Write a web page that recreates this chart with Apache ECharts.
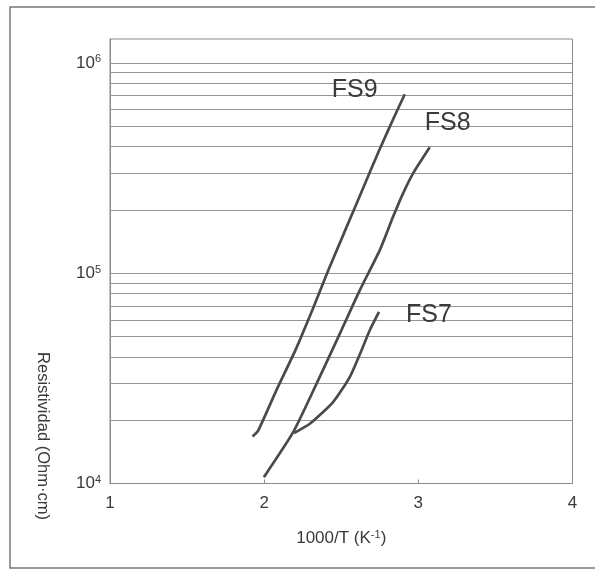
<!DOCTYPE html>
<html>
<head>
<meta charset="utf-8">
<script src="https://cdn.jsdelivr.net/npm/echarts@6/dist/echarts.min.js"></script>
<style>
  html, body { margin: 0; padding: 0; background: #fff; }
  #chart { width: 595px; height: 570px; }
</style>
</head>
<body>
<div id="chart"></div>
<script>
// curves (x = 1000/T, y = resistividad)
var fs9X = [1.925, 1.961, 2.079, 2.202, 2.312, 2.416, 2.526, 2.636, 2.747, 2.844, 2.912];
var fs9Y = [16750, 17860, 27730, 42950, 66680, 103300, 160300, 248300, 385500, 554600, 709600];

var fs8X = [1.998, 2.188, 2.340, 2.491, 2.620, 2.750, 2.836, 2.901, 2.966, 3.074];
var fs8Y = [10720, 17540, 29850, 51640, 82940, 128800, 185400, 239900, 298600, 397200];

var fs7X = [2.194, 2.296, 2.447, 2.555, 2.631, 2.685, 2.745];
var fs7Y = [17380, 19230, 24380, 32070, 42950, 53580, 65470];

// horizontal grid lines (2..9 x 10^k and the decades)
var gridValues = [2e4, 3e4, 4e4, 5e4, 6e4, 7e4, 8e4, 9e4, 1e5,
                  2e5, 3e5, 4e5, 5e5, 6e5, 7e5, 8e5, 9e5, 1e6];

var FONT = "'Liberation Sans', Arial, sans-serif";
var TXT = '#3a3a3a';

function pairs(xs, ys) {
    var out = [];
    for (var i = 0; i < xs.length; i++) {
        out.push([xs[i], ys[i]]);
    }
    return out;
}

function curve(name, xs, ys, off) {
    return {
        name: name,
        type: 'line',
        data: pairs(xs, ys),
        showSymbol: false,
        smooth: 0.2,
        lineStyle: { color: '#4a4a4a', width: 2.7 },
        endLabel: {
            show: true,
            formatter: '{a}',
            fontFamily: FONT,
            fontSize: 25,
            color: TXT,
            distance: 8,
            align: 'left',
            verticalAlign: 'middle',
            offset: off
        },
        z: 3
    };
}

var myChart = echarts.init(document.getElementById('chart'));

var series = [
    curve('FS9', fs9X, fs9Y, [-81, -4]),
    curve('FS8', fs8X, fs8Y, [-13, -24]),
    curve('FS7', fs7X, fs7Y, [19, 3])
];
// grid lines hung on the first series
series[0].markLine = {
    silent: true,
    symbol: 'none',
    label: { show: false },
    lineStyle: { color: '#949494', width: 1, type: 'solid' },
    data: gridValues.map(function (v) { return { yAxis: v }; }),
    z: 1
};

var option = {
    backgroundColor: '#fff',
    animation: false,
    grid: {
        left: 110, right: 22.5, top: 39, bottom: 86.5,
        show: true, borderColor: '#8a8a8a', borderWidth: 1
    },
    xAxis: {
        type: 'value',
        min: 1, max: 4, interval: 1,
        name: '1000/T (K{s|-1})',
        nameLocation: 'middle',
        nameGap: 46,
        nameTextStyle: {
            fontFamily: FONT, fontSize: 17, color: TXT,
            rich: { s: { fontFamily: FONT, fontSize: 11, color: TXT, verticalAlign: 'top', padding: [0, 0, 6, 0] } }
        },
        axisLine: { lineStyle: { color: '#8a8a8a' } },
        axisTick: { show: true, inside: true, length: 4, lineStyle: { color: '#8a8a8a' } },
        splitLine: { show: false },
        axisLabel: { fontFamily: FONT, fontSize: 17, color: TXT, margin: 11 }
    },
    yAxis: {
        type: 'log',
        logBase: 10,
        min: 1e4, max: 1.3e6,
        axisLine: { lineStyle: { color: '#8a8a8a' } },
        axisTick: { show: false },
        splitLine: { show: false },
        axisLabel: {
            margin: 9,
            showMaxLabel: false,
            formatter: function (v) {
                var e = Math.round(Math.log(v) / Math.LN10);
                if (Math.abs(v - Math.pow(10, e)) > 1e-6 * v) return '';
                return '{b|10}{s|' + e + '}';
            },
            rich: {
                b: { fontFamily: FONT, fontSize: 17, color: TXT },
                s: { fontFamily: FONT, fontSize: 11, color: TXT, verticalAlign: 'top', padding: [0, 0, 7, 0] }
            }
        }
    },
    graphic: [
        {
            type: 'rect',
            shape: { x: 10, y: 7, width: 600, height: 561 },
            style: { fill: 'none', stroke: '#777', lineWidth: 1.5 },
            silent: true
        },
        {
            type: 'text',
            x: 43, y: 436,
            rotation: -Math.PI / 2,
            style: {
                text: 'Resistividad (Ohm·cm)',
                font: '16.5px ' + FONT,
                fill: TXT,
                textAlign: 'center',
                textVerticalAlign: 'middle'
            },
            silent: true
        }
    ],
    series: series
};

myChart.setOption(option);
</script>
</body>
</html>
